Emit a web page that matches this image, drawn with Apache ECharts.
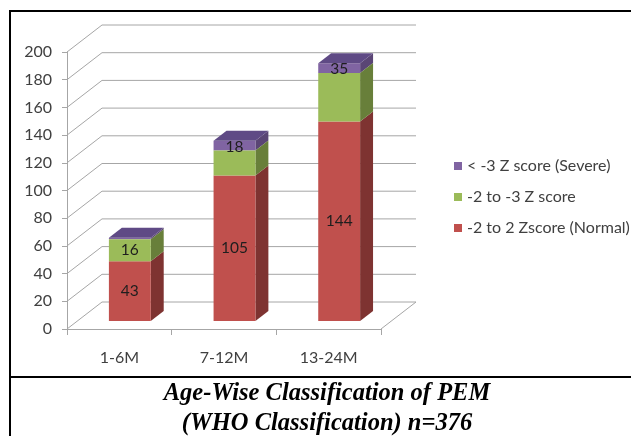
<!DOCTYPE html>
<html>
<head>
<meta charset="utf-8">
<title>Age-Wise Classification of PEM</title>
<script src="https://cdn.jsdelivr.net/npm/echarts@6/dist/echarts.min.js"></script>
<style>
  html, body { margin: 0; padding: 0; background: #fff; }
  #chart { width: 631px; height: 436px; }
</style>
</head>
<body>
<div id="chart"></div>
<script>
// Age groups and WHO Z-score classes (children per group)
const categories = ['1-6M', '7-12M', '13-24M'];
const normal   = [43, 105, 144];   // -2 to 2 Zscore (Normal)
const moderate = [16, 18, 35];     // -2 to -3 Z score
const severe   = [1, 7, 7];        // < -3 Z score (Severe)
const yTicks   = [0, 20, 40, 60, 80, 100, 120, 140, 160, 180, 200];

const seriesNames = ['-2 to 2 Zscore (Normal)', '-2 to -3 Z score', '< -3 Z score (Severe)'];
const seriesValues = [normal, moderate, severe];

// face colours: front, side, top
const palette = [
  { front: '#C0504D', side: '#7E3331', top: '#9C3F3D' },
  { front: '#9BBB59', side: '#687F3A', top: '#7E9A47' },
  { front: '#8064A2', side: '#5A4575', top: '#5F4A85' }
];

// pseudo-3D geometry (pixel offsets of the chart depth)
const DX = 35, DY = -27;          // full depth of walls / floor
const BAR_FRONT = 0.3;            // depth at which bar front faces sit
const BAR_DEPTH = 0.37;           // depth of a bar
const BAR_WIDTH = 0.4;            // fraction of the category band
const GRID_COLOR = '#A6A6A6';
const SANS = 'Lato, "Noto Sans", sans-serif';

// the moderate label sits on the upper edge for the taller bars
const moderateLabelOnTop = [false, true, true];

function stackedBase(seriesIndex, i) {
  let s = 0;
  for (let k = 0; k < seriesIndex; k++) s += seriesValues[k][i];
  return s;
}

function wallRender(params, api) {
  const cs = params.coordSys;
  const v = api.value(1);
  const y = api.coord([0, v])[1];
  const x0 = cs.x, x1 = cs.x + cs.width;
  const lineStyle = { stroke: GRID_COLOR, lineWidth: 1, fill: null };
  const children = [{
    type: 'polyline',
    shape: { points: [[x0, y], [x0 + DX, y + DY], [x1 + DX, y + DY]] },
    style: lineStyle
  }];
  if (v === 0) {
    children.push({
      type: 'line',
      shape: { x1: x1, y1: y, x2: x1 + DX, y2: y + DY },
      style: lineStyle
    });
  }
  return { type: 'group', children: children };
}

function makeBarRender(seriesIndex) {
  const col = palette[seriesIndex];
  const isTop = seriesIndex === seriesValues.length - 1;
  return function (params, api) {
    const i = api.value(0);
    const base = api.value(1);
    const val = api.value(2);
    const band = api.size([1, 0])[0];
    const w = band * BAR_WIDTH;
    const fx = BAR_FRONT * DX, fy = BAR_FRONT * DY;
    const bdx = BAR_DEPTH * DX, bdy = BAR_DEPTH * DY;
    const cx = api.coord([i, 0])[0] + fx;
    const yB = api.coord([i, base])[1] + fy;
    const yT = api.coord([i, base + val])[1] + fy;
    const x0 = cx - w / 2, x1 = cx + w / 2;
    const children = [
      {
        type: 'polygon',
        shape: { points: [[x1, yT], [x1 + bdx, yT + bdy], [x1 + bdx, yB + bdy], [x1, yB]] },
        style: { fill: col.side }
      },
      {
        type: 'rect',
        shape: { x: x0, y: yT, width: w, height: yB - yT },
        style: { fill: col.front }
      }
    ];
    if (isTop) {
      children.push({
        type: 'polygon',
        shape: { points: [[x0, yT], [x1, yT], [x1 + bdx, yT + bdy], [x0 + bdx, yT + bdy]] },
        style: { fill: col.top }
      });
    }
    // value label
    if (seriesIndex < 2) {
      let ly = (yT + yB) / 2;
      if (seriesIndex === 1 && moderateLabelOnTop[i]) ly = yT - 4;
      children.push({
        type: 'text',
        z2: 10,
        style: {
          text: String(val),
          x: cx, y: ly,
          align: 'center', verticalAlign: 'middle',
          fill: '#1E1E1E',
          font: '15.5px ' + SANS
        }
      });
    }
    return { type: 'group', children: children };
  };
}

const chart = echarts.init(document.getElementById('chart'), null, { renderer: 'canvas' });

const series = [{
  name: 'walls',
  type: 'custom',
  silent: true,
  z: 1,
  renderItem: wallRender,
  encode: { x: 0, y: 1 },
  data: yTicks.map(v => [0, v])
}];

// moderate segments drawn last so their labels stay above the severe caps
const seriesZ = [3, 5, 4];
seriesValues.forEach((vals, s) => {
  series.push({
    name: seriesNames[s],
    type: 'custom',
    z: seriesZ[s],
    itemStyle: { color: palette[s].front },
    renderItem: makeBarRender(s),
    encode: { x: 0, y: 2 },
    data: vals.map((v, i) => [i, stackedBase(s, i), v])
  });
});

const captionFont = 'italic bold 24.5px "Liberation Serif", serif';

chart.setOption({
  animation: false,
  backgroundColor: '#fff',
  grid: { left: 67, right: 250, top: 52, bottom: 107 },
  xAxis: {
    type: 'category',
    data: categories,
    boundaryGap: true,
    axisLine: { lineStyle: { color: GRID_COLOR, width: 1 } },
    axisTick: { show: true, length: 6, lineStyle: { color: GRID_COLOR } },
    axisLabel: { color: '#404040', fontSize: 16, margin: 21, fontFamily: SANS },
    splitLine: { show: false }
  },
  yAxis: {
    type: 'value',
    min: 0, max: 200, interval: 20,
    axisLine: { show: true, lineStyle: { color: GRID_COLOR, width: 1 } },
    axisTick: { show: true, length: 5, lineStyle: { color: GRID_COLOR } },
    axisLabel: { color: '#404040', fontSize: 16, margin: 15, fontFamily: SANS },
    splitLine: { show: false }
  },
  legend: {
    orient: 'vertical',
    left: 449,
    top: 153,
    icon: 'rect',
    itemWidth: 8,
    itemHeight: 8,
    itemGap: 15,
    data: [seriesNames[2], seriesNames[1], seriesNames[0]],
    textStyle: { color: '#404040', fontSize: 16, fontFamily: SANS }
  },
  graphic: [
    { type: 'line', shape: { x1: 10, y1: 11, x2: 631, y2: 11 }, style: { stroke: '#000', lineWidth: 2 } },
    { type: 'line', shape: { x1: 10, y1: 10, x2: 10, y2: 436 }, style: { stroke: '#000', lineWidth: 2 } },
    { type: 'line', shape: { x1: 10, y1: 377, x2: 631, y2: 377 }, style: { stroke: '#000', lineWidth: 2 } },
    {
      type: 'text',
      style: {
        text: 'Age-Wise Classification of PEM',
        x: 327, y: 394, align: 'center', verticalAlign: 'middle',
        fill: '#000', font: captionFont
      }
    },
    {
      type: 'text',
      style: {
        text: '(WHO Classification) n=376',
        x: 327, y: 424, align: 'center', verticalAlign: 'middle',
        fill: '#000', font: captionFont
      }
    }
  ],
  series: series
});
</script>
</body>
</html>
